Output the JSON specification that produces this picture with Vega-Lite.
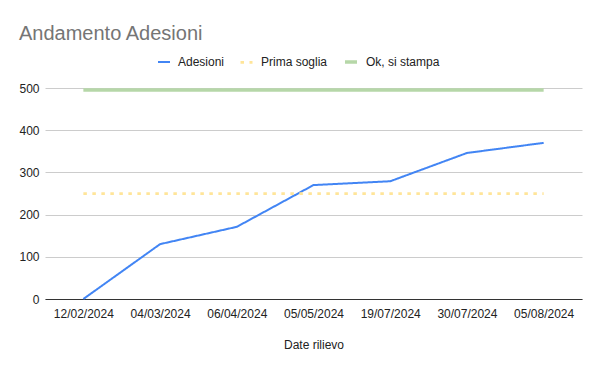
{
  "$schema": "https://vega.github.io/schema/vega-lite/v6.json",
  "autosize": {"type": "none"},
  "width": 537,
  "height": 211,
  "padding": {"left": 45, "top": 88, "right": 18, "bottom": 72},
  "background": "white",
  "title": {
    "text": "Andamento Adesioni",
    "anchor": "start",
    "frame": "group",
    "dx": -26,
    "offset": 10,
    "font": "Liberation Sans",
    "fontSize": 20,
    "fontWeight": "normal",
    "color": "#757575"
  },
  "config": {
    "view": {"stroke": null},
    "font": "Liberation Sans"
  },
  "data": {
    "values": [
      {"date": "12/02/2024", "serie": "Adesioni", "valore": 0},
      {"date": "04/03/2024", "serie": "Adesioni", "valore": 130},
      {"date": "06/04/2024", "serie": "Adesioni", "valore": 171},
      {"date": "05/05/2024", "serie": "Adesioni", "valore": 270},
      {"date": "19/07/2024", "serie": "Adesioni", "valore": 279},
      {"date": "30/07/2024", "serie": "Adesioni", "valore": 346},
      {"date": "05/08/2024", "serie": "Adesioni", "valore": 370},
      {"date": "12/02/2024", "serie": "Prima soglia", "valore": 250},
      {"date": "04/03/2024", "serie": "Prima soglia", "valore": 250},
      {"date": "06/04/2024", "serie": "Prima soglia", "valore": 250},
      {"date": "05/05/2024", "serie": "Prima soglia", "valore": 250},
      {"date": "19/07/2024", "serie": "Prima soglia", "valore": 250},
      {"date": "30/07/2024", "serie": "Prima soglia", "valore": 250},
      {"date": "05/08/2024", "serie": "Prima soglia", "valore": 250},
      {"date": "12/02/2024", "serie": "Ok, si stampa", "valore": 495},
      {"date": "04/03/2024", "serie": "Ok, si stampa", "valore": 495},
      {"date": "06/04/2024", "serie": "Ok, si stampa", "valore": 495},
      {"date": "05/05/2024", "serie": "Ok, si stampa", "valore": 495},
      {"date": "19/07/2024", "serie": "Ok, si stampa", "valore": 495},
      {"date": "30/07/2024", "serie": "Ok, si stampa", "valore": 495},
      {"date": "05/08/2024", "serie": "Ok, si stampa", "valore": 495}
    ]
  },
  "mark": {"type": "line", "strokeCap": "butt"},
  "encoding": {
    "x": {
      "field": "date",
      "type": "ordinal",
      "sort": null,
      "scale": {"type": "point", "padding": 0.5},
      "axis": {
        "title": "Date rilievo",
        "labelAngle": 0,
        "labelFont": "Liberation Sans",
        "labelFontSize": 12,
        "labelColor": "#222222",
        "labelPadding": 9,
        "ticks": false,
        "domainColor": "#333333",
        "domainWidth": 1,
        "grid": false,
        "titleFont": "Liberation Sans",
        "titleFontSize": 12,
        "titleFontWeight": "normal",
        "titleColor": "#222222",
        "titlePadding": 20
      }
    },
    "y": {
      "field": "valore",
      "type": "quantitative",
      "scale": {"domain": [0, 500], "nice": false},
      "axis": {
        "title": null,
        "values": [0, 100, 200, 300, 400, 500],
        "domain": false,
        "ticks": false,
        "gridColor": "#cccccc",
        "gridWidth": 1,
        "labelFont": "Liberation Sans",
        "labelFontSize": 12,
        "labelColor": "#222222",
        "labelPadding": 6
      }
    },
    "color": {
      "field": "serie",
      "type": "nominal",
      "scale": {
        "domain": ["Adesioni", "Prima soglia", "Ok, si stampa"],
        "range": ["#4285f4", "#ffe599", "#b6d7a8"]
      },
      "legend": {
        "title": null,
        "orient": "none",
        "direction": "horizontal",
        "legendX": 112,
        "legendY": -34,
        "symbolType": "stroke",
        "symbolSize": 144,
        "symbolStrokeWidth": 4,
        "labelFont": "Liberation Sans",
        "labelFontSize": 12,
        "labelColor": "#222222",
        "columnPadding": 10,
        "labelOffset": 7
      }
    },
    "strokeDash": {
      "field": "serie",
      "type": "nominal",
      "scale": {
        "domain": ["Adesioni", "Prima soglia", "Ok, si stampa"],
        "range": [[1, 0], [3.5, 5.5], [1, 0]]
      },
      "legend": null
    },
    "strokeWidth": {
      "field": "serie",
      "type": "nominal",
      "scale": {
        "domain": ["Adesioni", "Prima soglia", "Ok, si stampa"],
        "range": [2, 3.5, 4]
      },
      "legend": null
    }
  }
}
